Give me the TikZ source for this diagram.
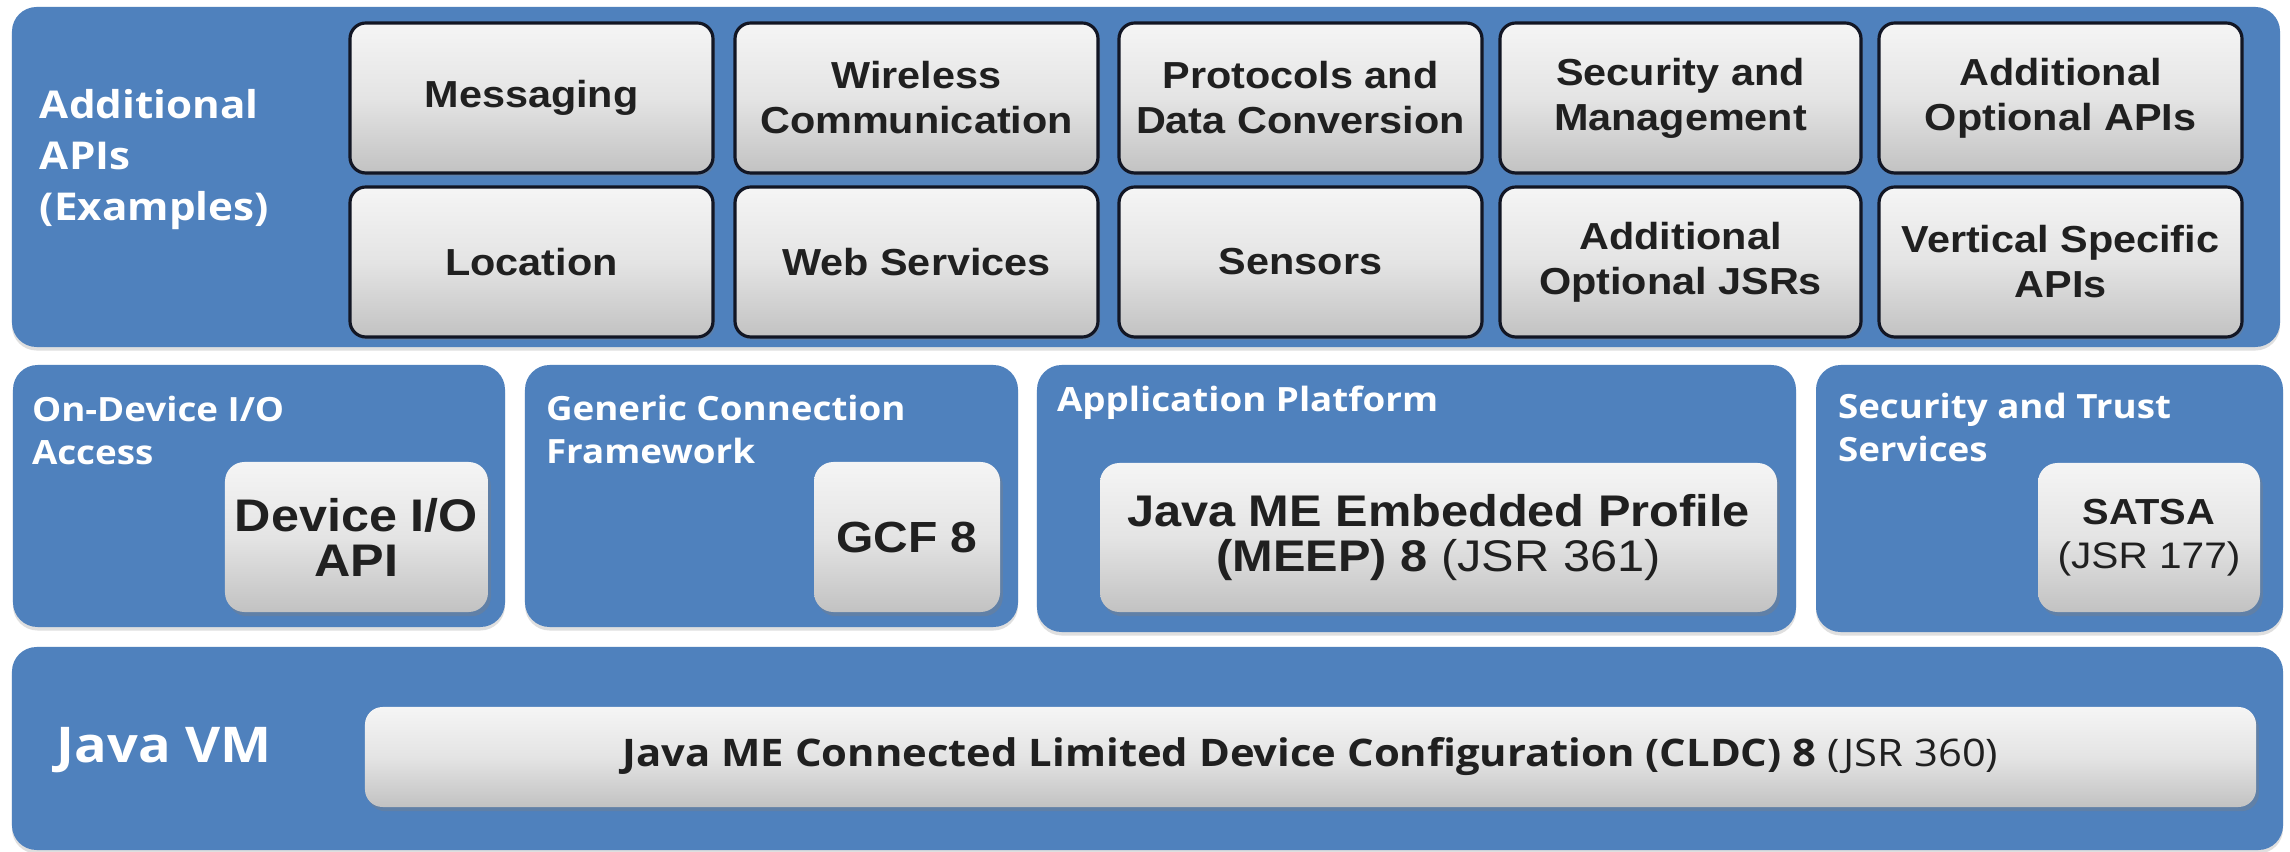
\documentclass[tikz,border=0pt]{standalone}
\usepackage{fontspec}
\usetikzlibrary{shadows}
\newfontfamily\lblfont[FakeStretch=1.1]{Open Sans}
\newfontfamily\bxfont[FakeStretch=1.1]{Liberation Sans}
\definecolor{panelblue}{RGB}{79,129,189}
\definecolor{boxtop}{RGB}{245,245,245}
\definecolor{boxmid}{RGB}{228,228,228}
\definecolor{boxbot}{RGB}{194,194,194}
\definecolor{boxline}{RGB}{18,22,36}
\definecolor{boxtext}{RGB}{32,32,32}
% box from (x1,y1) to (x2,y2) in pixel units: style, name, x1, y1, x2, y2, text
\newcommand\pxbox[7]{%
  \pgfmathsetmacro\pxcx{(#3+#5)/2}%
  \pgfmathsetmacro\pxcy{(#4+#6)/2}%
  \pgfmathsetmacro\pxw{(#5-#3)*0.01}%
  \pgfmathsetmacro\pxh{(#6-#4)*0.01}%
  \node[#1, minimum width=\pxw cm, minimum height=\pxh cm] (#2) at (\pxcx,\pxcy) {#7};}
\begin{document}
\begin{tikzpicture}[x=0.01cm,y=-0.01cm,
  panel/.style={rounded corners=7pt, fill=panelblue, inner sep=0pt, outer sep=0pt,
    drop shadow={shadow xshift=0pt, shadow yshift=-1pt, opacity=0.25}},
  grad/.style={top color=boxtop, bottom color=boxbot, middle color=boxmid,
    inner sep=0pt, outer sep=0pt, align=center, text=boxtext},
  apibox/.style={grad, rounded corners=4.5pt, draw=boxline, line width=0.9pt,
    font=\bxfont\bfseries\fontsize{10.7}{12.8}\selectfont,
    drop shadow={shadow xshift=0.6pt, shadow yshift=-0.8pt, opacity=0.3}},
  innerbox/.style={grad, rounded corners=5.5pt,
    drop shadow={shadow xshift=0.8pt, shadow yshift=-1.2pt, opacity=0.35}},
  wlabel/.style={text=white, inner sep=0pt, outer sep=0pt, align=left,
    font=\lblfont\bfseries\fontsize{9.5}{12.2}\selectfont},
]
\useasboundingbox (0,0) rectangle (2290,852);
\fill[white] (0,0) rectangle (2290,852);

% ---------- top panel ----------
\pxbox{panel}{apis}{12}{7}{2280}{347}{}
\node[wlabel, anchor=north west, font=\lblfont\bfseries\fontsize{10.9}{14.5}\selectfont]
  (apislbl) at (40,89) {Additional\\APIs\\(Examples)};

\pxbox{apibox}{msg}{350}{23}{713}{173}{Messaging}
\pxbox{apibox}{wir}{735}{23}{1098}{173}{Wireless\\Communication}
\pxbox{apibox}{prot}{1119}{23}{1482}{173}{Protocols and\\Data Conversion}
\pxbox{apibox}{secm}{1500}{23}{1861}{173}{Security and\\Management}
\pxbox{apibox}{aapi}{1879}{23}{2242}{173}{Additional\\Optional APIs}

\pxbox{apibox}{loc}{350}{187}{713}{337}{Location}
\pxbox{apibox}{web}{735}{187}{1098}{337}{Web Services}
\pxbox{apibox}{sens}{1119}{187}{1482}{337}{Sensors}
\pxbox{apibox}{ajsr}{1500}{187}{1861}{337}{Additional\\Optional JSRs}
\pxbox{apibox}{vert}{1879}{187}{2242}{337}{Vertical Specific\\APIs}

% ---------- middle panels ----------
\pxbox{panel}{iop}{13}{365}{505}{627}{}
\pxbox{panel}{gcfp}{525}{365}{1018}{627}{}
\pxbox{panel}{appp}{1037}{365}{1796}{632}{}
\pxbox{panel}{secp}{1816}{365}{2283}{632}{}

\node[wlabel, anchor=north west] (iolbl)  at (32,396)   {On-Device I/O\\Access};
\node[wlabel, anchor=north west] (gcflbl) at (546,395)  {Generic Connection\\Framework};
\node[wlabel, anchor=north west] (applbl) at (1057,386) {Application Platform};
\node[wlabel, anchor=north west] (seclbl) at (1838,393) {Security and Trust\\Services};

\pxbox{innerbox, font=\bxfont\bfseries\fontsize{13}{12.8}\selectfont}{dio}
  {225}{462}{488}{612}{Device I/O\\API}
\pxbox{innerbox, font=\bxfont\bfseries\fontsize{12.4}{14}\selectfont}{gcf}
  {814}{462}{1000}{612}{GCF 8}
\pxbox{innerbox, font=\bxfont\bfseries\fontsize{12.6}{13}\selectfont}{meep}
  {1100}{463}{1777}{612}{Java ME Embedded Profile\\(MEEP) 8 {\mdseries (JSR 361)}}
\pxbox{innerbox, font=\bxfont\bfseries\fontsize{10.3}{12.5}\selectfont}{satsa}
  {2038}{463}{2260}{612}{SATSA\\{\mdseries\fontsize{10.5}{12.5}\selectfont (JSR 177)}}

% ---------- bottom panel ----------
\pxbox{panel}{vm}{12}{647}{2283}{850}{}
\node[wlabel, anchor=base west, font=\lblfont\bfseries\fontsize{14}{16}\selectfont]
  (vmlbl) at (57,762) {Java VM};
\pxbox{innerbox, rounded corners=5pt, font=\lblfont\bfseries\fontsize{10.8}{12}\selectfont}{cldc}
  {365}{707}{2256}{807}{Java ME Connected Limited Device Configuration (CLDC) 8 {\mdseries (JSR 360)}}
\end{tikzpicture}
\end{document}
